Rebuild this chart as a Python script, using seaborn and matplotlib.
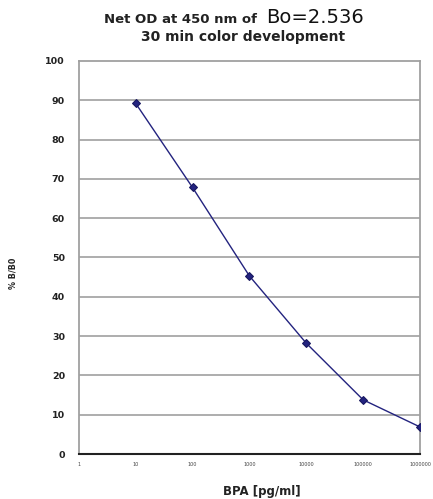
import matplotlib
matplotlib.use("Agg")
import matplotlib.pyplot as plt
import seaborn as sns
import pandas as pd
import numpy as np
from matplotlib.ticker import LogLocator, FixedLocator, NullFormatter

bpa = [10, 100, 1000, 10000, 100000, 1000000]
pct_b_b0 = [89.2, 67.8, 45.3, 28.2, 13.8, 6.9]
x_ticks = [1, 10, 100, 1000, 10000, 100000, 1000000]
x_tick_labels = ["1", "10", "100", "1000", "10000", "100000", "1000000"]
y_ticks = [0, 10, 20, 30, 40, 50, 60, 70, 80, 90, 100]

sns.set_style("white")
plt.rcParams['font.family'] = ['DejaVu Sans']

df = pd.DataFrame({"BPA": bpa, "pct": pct_b_b0})

fig = plt.figure(figsize=(4.33, 4.99), dpi=100)
ax = fig.add_axes([0.182, 0.090, 0.788, 0.788])

for y in y_ticks[1:-1]:
    ax.axhline(y, color="#a0a0a0", lw=1.2, zorder=1)

sns.lineplot(data=df, x="BPA", y="pct", ax=ax, color="#23237f", lw=1.0,
             marker="D", markersize=4.5, markeredgecolor="#16165e", zorder=3)

ax.set_xscale("log")
ax.set_xlim(1, 1000000)
ax.set_ylim(0, 100)
ax.xaxis.set_major_locator(FixedLocator(x_ticks))
ax.set_xticklabels(x_tick_labels, fontsize=3.5, color="#444444")
ax.xaxis.set_minor_locator(LogLocator(base=10, subs=np.arange(2, 10), numticks=20))
ax.xaxis.set_minor_formatter(NullFormatter())
ax.set_yticks(y_ticks)
ax.set_yticklabels([str(v) for v in y_ticks], fontsize=6.8, fontweight="bold", color="#222222")

for s in ["top", "right", "left"]:
    ax.spines[s].set_color("#a0a0a0")
    ax.spines[s].set_linewidth(1.3)
ax.spines["bottom"].set_color("#222222")
ax.spines["bottom"].set_linewidth(1.5)

ax.tick_params(axis="y", which="major", direction="out", length=5, color="#555555", width=0.8, pad=5)
ax.tick_params(axis="x", which="major", direction="inout", length=5, color="#222222", width=0.8, pad=3)
ax.tick_params(axis="x", which="minor", direction="inout", length=3, color="#222222", width=0.6)

ax.set_xlabel("BPA [pg/ml]", fontsize=8.5, fontweight="bold", color="#222222")
ax.xaxis.set_label_coords(0.535, -0.078)
ax.set_ylabel("% B/B0", fontsize=5.8, fontweight="bold", color="#222222")
ax.yaxis.set_label_coords(-0.18, 0.46)
ax.grid(False)

fig.text(0.605, 0.954, "Net OD at 450 nm of ", fontsize=9.5, fontweight="bold", ha="right", va="baseline", color="#222222")
fig.text(0.614, 0.954, "Bo=2.536", fontsize=14, ha="left", va="baseline", color="#111111")
fig.text(0.561, 0.917, "30 min color development", fontsize=10, fontweight="bold", ha="center", va="baseline", color="#222222")

fig.savefig("out.png", dpi=100, facecolor="white")
